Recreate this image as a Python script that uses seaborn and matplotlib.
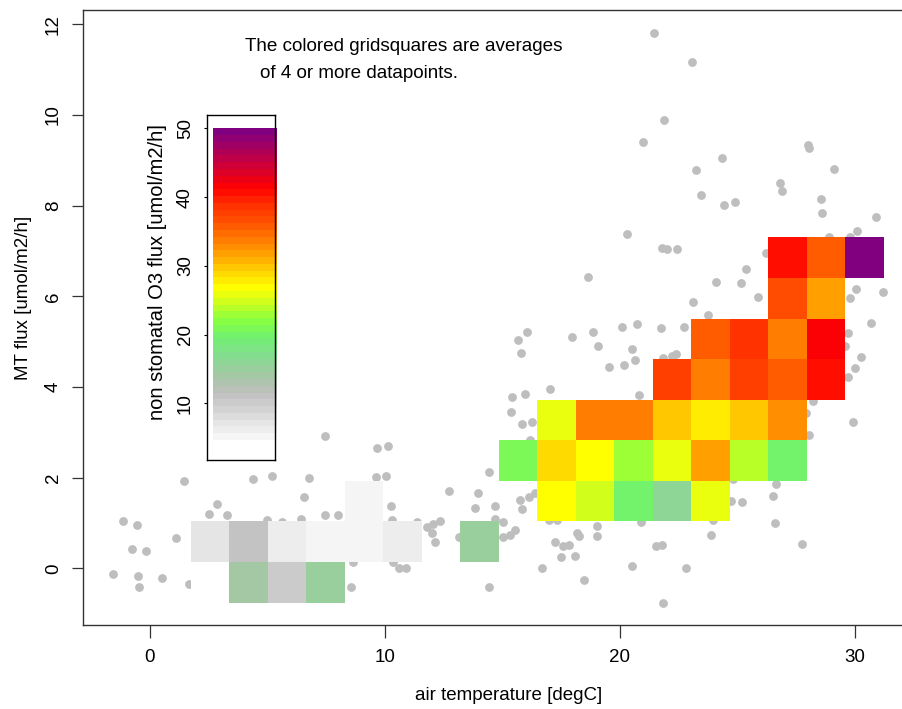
import numpy as np
import matplotlib
matplotlib.use("Agg")
import matplotlib.pyplot as plt
import seaborn as sns
from matplotlib.colors import LinearSegmentedColormap, Normalize

# ---------------- data ----------------
air_temp = [7.46, 9.66, 10.14, 1.45, 4.40, 5.18, 6.77, 9.60, 10.03, 6.55, 12.71, 13.97, 14.43, 13.84,
            14.68, 2.86, 2.52, 3.26, 7.45, 8.01, 10.24, -1.13, -0.55, 1.13, -0.75, -0.17, -1.56, -0.51,
            0.50, -0.48, 1.65, 8.57, 8.63, 10.35, 10.60, 10.89, 11.38, 11.77, 12.06, 12.34, 11.99, 12.13,
            13.16, 14.43, 10.31, 4.97, 5.60, 6.43, 14.68,
            16.03, 15.68, 15.77, 17.96, 18.84, 19.06, 20.07, 20.71, 21.76, 22.72, 20.50, 20.65, 20.17,
            19.52, 22.20, 22.37, 21.85, 30.67, 29.69, 29.57, 30.26, 30.00, 29.72, 29.90, 28.23, 27.91,
            28.06, 15.39, 15.96, 17.02, 15.36, 15.84, 16.27, 20.82, 16.17, 15.74, 16.14, 15.82, 16.38,
            15.01, 15.53, 15.32, 15.03, 16.99, 17.31, 19.01, 18.16, 18.27, 19.01, 20.89, 17.22, 17.59,
            17.84, 17.48, 18.09, 16.69, 18.49, 20.51, 21.52, 21.77, 22.81, 21.81, 23.86, 23.97, 24.74,
            25.18, 26.62, 26.52, 26.60, 27.76, 24.82,
            21.45, 23.06, 21.86, 20.98, 24.35, 23.25, 27.99, 28.03, 29.09, 23.43, 24.41, 24.88, 26.79,
            26.88, 28.54, 28.61, 30.91, 30.09, 29.79, 28.91, 20.30, 21.77, 21.99, 22.44, 18.64, 25.37,
            24.07, 25.15, 25.89, 23.11, 23.74, 30.04, 29.79, 31.20, 26.23]
mt_flux = [2.92, 2.66, 2.69, 1.93, 1.98, 2.05, 2.00, 2.02, 2.04, 1.58, 1.71, 1.66, 2.13, 1.34,
           1.38, 1.43, 1.20, 1.19, 1.18, 1.19, 1.38, 1.05, 0.96, 0.67, 0.42, 0.38, -0.12, -0.16,
           -0.22, -0.41, -0.34, -0.40, 0.14, 0.14, 0.00, 0.00, 1.03, 0.92, 0.98, 1.05, 0.78, 0.59,
           0.70, -0.40, 1.07, 1.07, 1.03, 1.09, 1.09,
           5.21, 5.04, 4.76, 5.11, 5.21, 4.91, 5.33, 5.39, 5.30, 5.32, 4.83, 4.60, 4.49,
           4.45, 4.69, 4.72, 4.64, 5.42, 5.19, 4.91, 4.67, 4.43, 4.23, 3.22, 3.70, 3.42,
           2.94, 3.79, 3.85, 3.96, 3.46, 3.19, 3.24, 3.83, 2.83, 1.50, 1.57, 1.31, 1.66,
           1.03, 0.85, 0.74, 0.70, 1.07, 1.08, 0.94, 0.79, 0.72, 0.72, 1.03, 0.58, 0.50,
           0.52, 0.26, 0.28, 0.01, -0.26, 0.06, 0.50, 0.52, 0.00, -0.75, 0.73, 1.07, 1.49,
           1.47, 1.86, 1.60, 1.00, 0.53, 1.97,
           11.80, 11.16, 9.88, 9.41, 9.06, 8.79, 9.34, 9.27, 8.80, 8.24, 8.02, 8.08, 8.51,
           8.32, 8.14, 7.83, 7.75, 7.44, 7.32, 7.32, 7.38, 7.06, 7.04, 7.05, 6.43, 6.61,
           6.32, 6.30, 5.98, 5.88, 5.59, 6.16, 5.96, 6.10, 6.95]

grid_temp_edges = [1.73, 3.37, 5.01, 6.65, 8.28, 9.92, 11.56, 13.20, 14.84, 16.47,
                   18.11, 19.75, 21.39, 23.03, 24.66, 26.30, 27.94, 29.58, 31.22]
grid_flux_edges = [-0.75, 0.14, 1.04, 1.93, 2.83, 3.72, 4.61, 5.51, 6.40, 7.30]

n = np.nan
# mean non-stomatal O3 flux per grid square (rows: bottom -> top, cols: left -> right)
o3_row0 = [3.0, 14.5, 10.5, 15.5, n, n, n, n, n, n, n, n, n, n, n, n, n, n]
o3_row1 = [7.3, 11.3, 6.6, 5.2, 5.0, 6.6, n, 15.0, n, n, n, n, n, n, n, n, n, n]
o3_row2 = [n, n, n, n, 5.6, n, n, n, n, 26.8, 25.0, 20.0, 16.0, 26.0, n, n, n, n]
o3_row3 = [n, n, n, n, n, n, n, n, 21.0, 28.5, 27.0, 22.5, 25.5, 31.3, 23.5, 20.0, n, n]
o3_row4 = [n, n, n, n, n, n, n, n, n, 25.8, 34.2, 33.8, 29.4, 28.0, 30.2, 32.6, n, n]
o3_row5 = [n, n, n, n, n, n, n, n, n, n, n, n, 37.8, 33.8, 37.2, 35.4, 40.4, n]
o3_row6 = [n, n, n, n, n, n, n, n, n, n, n, n, n, 35.4, 39.1, 33.4, 42.0, n]
o3_row7 = [n, n, n, n, n, n, n, n, n, n, n, n, n, n, n, 36.6, 32.2, n]
o3_row8 = [n, n, n, n, n, n, n, n, n, n, n, n, n, n, n, 41.0, 35.4, 50.0]

o3_min, o3_max = 4.66, 50.0
cbar_ticks = [10, 20, 30, 40, 50]

# ---------------- style ----------------
sns.set_style("white")
plt.rcParams["font.family"] = ["Liberation Sans", "DejaVu Sans"]
for key in ["text.color", "axes.labelcolor", "xtick.color", "ytick.color"]:
    plt.rcParams[key] = "black"
FS = 13.5

W, H = 903, 709
fig = plt.figure(figsize=(W / 100, H / 100), dpi=100)

def fx(px):
    return px / W

def fy(py):
    return 1 - py / H

# colormap (gray -> green -> yellow -> orange -> red -> purple), banded
anchors = [(4.66, "#f5f5f5"), (6.4, "#e8e8e8"), (8.8, "#d2d2d2"), (11.2, "#bfbfbf"),
           (13.7, "#a4c8a4"), (16.6, "#84dc90"), (19.5, "#70f070"), (22.0, "#88ff40"),
           (24.4, "#c8ff20"), (26.8, "#ffff00"), (29.4, "#ffd000"), (31.8, "#ffa000"),
           (34.2, "#ff7800"), (36.6, "#ff5000"), (39.1, "#ff3000"), (41.7, "#ff0000"),
           (45.4, "#c80040"), (50.0, "#800080")]
cmap = LinearSegmentedColormap.from_list(
    "o3", [((v - o3_min) / (o3_max - o3_min), c) for v, c in anchors], N=46)
cmap.set_under("white")
cmap.set_bad((0, 0, 0, 0))
norm = Normalize(vmin=o3_min, vmax=o3_max)

# ---------------- main axes ----------------
ax_l, ax_r, ax_t, ax_b = 82.7, 914.0, 10.0, 625.0
ax = fig.add_axes([fx(ax_l), fy(ax_b), (ax_r - ax_l) / W, (ax_b - ax_t) / H])

sns.scatterplot(x=air_temp, y=mt_flux, ax=ax, color="#bebebe", s=40, linewidth=0,
                zorder=2, legend=False)

grid = np.ma.masked_invalid(np.array([o3_row0, o3_row1, o3_row2, o3_row3, o3_row4,
                                      o3_row5, o3_row6, o3_row7, o3_row8]))
ax.pcolormesh(grid_temp_edges, grid_flux_edges, grid, cmap=cmap, norm=norm,
              edgecolors="none", antialiased=False, zorder=3)

ax.set_xlim(-2.86, 32.51)
ax.set_ylim(-1.246, 12.315)
ax.set_xticks([0, 10, 20, 30])
ax.set_yticks([0, 2, 4, 6, 8, 10, 12])
for s in ax.spines.values():
    s.set_color("#333333")
    s.set_linewidth(1.0)
ax.tick_params(axis="x", direction="out", length=9, width=0.9, color="#333333",
               labelsize=FS, pad=8, bottom=True)
ax.tick_params(axis="y", direction="out", length=8, width=0.9, color="#333333",
               labelsize=FS, pad=7, left=True)
for lbl in ax.get_yticklabels():
    lbl.set_rotation(90)
    lbl.set_va("center")

ax.set_xlabel("air temperature [degC]", fontsize=FS)
ax.set_ylabel("MT flux [umol/m2/h]", fontsize=FS)
ax.xaxis.label.set_va("center")
ax.yaxis.label.set_va("center")
ax.xaxis.set_label_coords((508.6 - ax_l) / (ax_r - ax_l), (ax_b - 695) / (ax_b - ax_t))
ax.yaxis.set_label_coords((23.5 - ax_l) / (ax_r - ax_l), (ax_b - 298) / (ax_b - ax_t))

fig.text(fx(245), fy(50.7), "The colored gridsquares are averages", fontsize=13.6,
         ha="left", va="baseline")
fig.text(fx(260), fy(77.5), "of 4 or more datapoints.", fontsize=13.6,
         ha="left", va="baseline")

# ---------------- colour bar ----------------
cb_l, cb_r, cb_t, cb_b = 207.3, 274.7, 115.3, 460.0
cax = fig.add_axes([fx(cb_l), fy(cb_b), (cb_r - cb_l) / W, (cb_b - cb_t) / H])
cax.set_facecolor("white")
cax.set_xlim(0, 1)
cax.set_ylim(1.75, 51.9)
cb_edges = np.linspace(o3_min, o3_max, 47)
cb_vals = ((cb_edges[:-1] + cb_edges[1:]) / 2).reshape(-1, 1)
cax.pcolormesh([0.089, 1.03], cb_edges, cb_vals, cmap=cmap, norm=norm,
               edgecolors="none", antialiased=False, clip_on=False, zorder=1)
for s in cax.spines.values():
    s.set_color("black")
    s.set_linewidth(1.0)
    s.set_zorder(5)
cax.set_xticks([])
cax.set_yticks(cbar_ticks)
cax.tick_params(axis="y", direction="out", length=2.5, width=0.8, labelsize=FS, pad=7,
                left=True)
for lbl in cax.get_yticklabels():
    lbl.set_rotation(90)
    lbl.set_va("center")
cax.set_ylabel("non stomatal O3 flux [umol/m2/h]", fontsize=14.5)
cax.yaxis.label.set_va("center")
cax.yaxis.set_label_coords((157.5 - cb_l) / (cb_r - cb_l), (cb_b - 272) / (cb_b - cb_t))

fig.savefig("out.png", dpi=100)
